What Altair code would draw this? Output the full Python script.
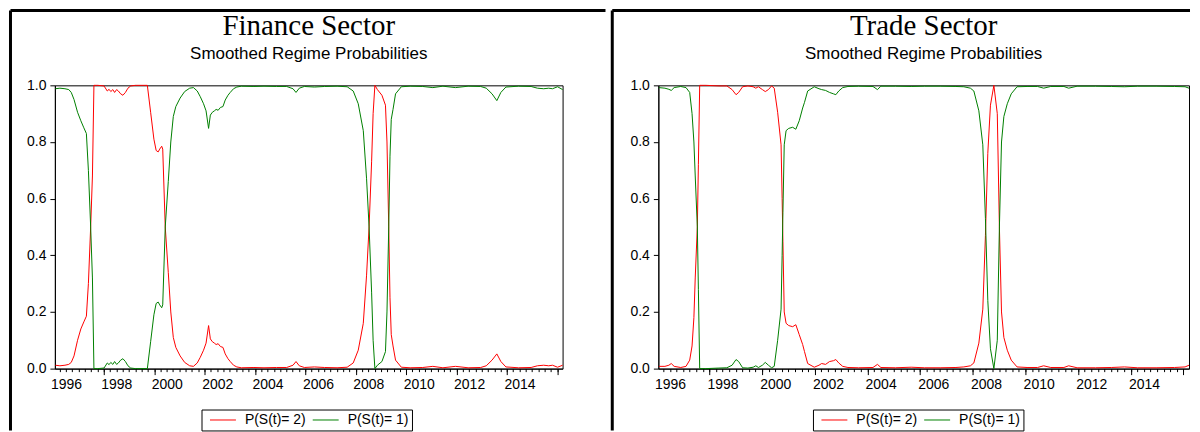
import altair as alt
import pandas as pd

RED_LABEL = "P(S(t)= 2)"
GREEN_LABEL = "P(S(t)= 1)"
SUBTITLE = "Smoothed Regime Probabilities"
RED = "#ff0000"
GREEN = "#008000"

# ---------------- Finance sector (time in decimal years) ----------------
fin_t = [1996.08, 1996.26, 1996.46, 1996.61, 1996.71, 1996.82, 1996.96, 1997.09, 1997.21, 1997.31,
         1997.39, 1997.48, 1997.55, 1997.61, 1997.76, 1998.01, 1998.14, 1998.21, 1998.28, 1998.36,
         1998.43, 1998.51, 1998.58, 1998.67, 1998.76, 1998.86, 1998.96, 1999.07, 1999.26, 1999.73,
         1999.86, 1999.99, 2000.08, 2000.16, 2000.22, 2000.30, 2000.34, 2000.44, 2000.56, 2000.66,
         2000.76, 2000.86, 2001.03, 2001.21, 2001.41, 2001.56, 2001.71, 2001.83, 2001.96, 2002.06,
         2002.16, 2002.23, 2002.31, 2002.39, 2002.46, 2002.54, 2002.63, 2002.73, 2002.82, 2002.93,
         2003.02, 2003.15, 2003.28, 2003.46, 2003.96, 2004.36, 2004.86, 2005.26, 2005.51, 2005.63,
         2005.76, 2005.96, 2006.36, 2006.76, 2007.26, 2007.66, 2007.90, 2008.10, 2008.30, 2008.43,
         2008.53, 2008.63, 2008.69, 2008.76, 2008.86, 2009.04, 2009.18, 2009.24, 2009.31, 2009.36,
         2009.41, 2009.48, 2009.58, 2009.81, 2010.16, 2010.66, 2011.06, 2011.46, 2011.96, 2012.46,
         2012.96, 2013.18, 2013.41, 2013.60, 2013.76, 2013.96, 2014.46, 2014.96, 2015.21, 2015.46,
         2015.66, 2015.81, 2016.01, 2016.21]
fin_red = [0.012, 0.010, 0.012, 0.015, 0.022, 0.045, 0.100, 0.140, 0.165, 0.185,
           0.300, 0.500, 0.680, 1.000, 1.000, 0.998, 0.980, 0.986, 0.978, 0.985,
           0.975, 0.985, 0.980, 0.970, 0.965, 0.975, 0.990, 0.998, 1.000, 1.000,
           0.905, 0.810, 0.770, 0.765, 0.775, 0.785, 0.775, 0.500, 0.340, 0.200,
           0.110, 0.075, 0.045, 0.022, 0.010, 0.008, 0.020, 0.040, 0.065, 0.090,
           0.152, 0.105, 0.095, 0.090, 0.085, 0.088, 0.078, 0.075, 0.052, 0.035,
           0.025, 0.012, 0.006, 0.003, 0.004, 0.003, 0.004, 0.004, 0.012, 0.025,
           0.010, 0.004, 0.006, 0.004, 0.003, 0.005, 0.020, 0.065, 0.160, 0.330,
           0.500, 0.730, 0.900, 1.000, 0.985, 0.965, 0.930, 0.800, 0.500, 0.250,
           0.120, 0.080, 0.030, 0.005, 0.003, 0.004, 0.008, 0.003, 0.008, 0.003,
           0.004, 0.010, 0.030, 0.052, 0.025, 0.006, 0.003, 0.004, 0.010, 0.012,
           0.010, 0.012, 0.005, 0.012]
fin_green = [0.988, 0.990, 0.988, 0.985, 0.975, 0.950, 0.905, 0.875, 0.850, 0.830,
             0.700, 0.500, 0.320, 0.000, 0.000, 0.002, 0.020, 0.014, 0.022, 0.015,
             0.025, 0.015, 0.020, 0.030, 0.035, 0.025, 0.010, 0.002, 0.000, 0.000,
             0.095, 0.190, 0.230, 0.235, 0.225, 0.215, 0.225, 0.500, 0.660, 0.800,
             0.890, 0.925, 0.955, 0.978, 0.990, 0.992, 0.980, 0.960, 0.935, 0.910,
             0.848, 0.895, 0.905, 0.910, 0.915, 0.912, 0.922, 0.925, 0.948, 0.965,
             0.975, 0.988, 0.994, 0.997, 0.996, 0.997, 0.996, 0.996, 0.988, 0.975,
             0.990, 0.996, 0.994, 0.996, 0.997, 0.995, 0.980, 0.935, 0.840, 0.670,
             0.500, 0.270, 0.100, 0.000, 0.012, 0.025, 0.060, 0.200, 0.500, 0.750,
             0.880, 0.915, 0.970, 0.995, 0.997, 0.996, 0.992, 0.997, 0.992, 0.997,
             0.996, 0.990, 0.970, 0.946, 0.975, 0.994, 0.997, 0.996, 0.990, 0.988,
             0.990, 0.988, 0.995, 0.985]

# ---------------- Trade sector ----------------
trade_t = [1996.08, 1996.31, 1996.46, 1996.55, 1996.66, 1996.91, 1997.11, 1997.25, 1997.34, 1997.41,
           1997.46, 1997.54, 1997.58, 1997.63, 1997.86, 1998.36, 1998.66, 1998.86, 1999.01, 1999.11,
           1999.26, 1999.46, 1999.66, 1999.76, 1999.86, 2000.01, 2000.12, 2000.24, 2000.36, 2000.46,
           2000.59, 2000.72, 2000.76, 2000.79, 2000.84, 2000.91, 2001.01, 2001.16, 2001.28, 2001.41,
           2001.54, 2001.61, 2001.73, 2001.98, 2002.16, 2002.26, 2002.41, 2002.56, 2002.71, 2002.80,
           2002.91, 2003.06, 2003.26, 2003.66, 2004.21, 2004.38, 2004.51, 2005.06, 2005.66, 2006.16,
           2006.76, 2007.36, 2007.66, 2007.91, 2008.04, 2008.23, 2008.38, 2008.48, 2008.57, 2008.67,
           2008.80, 2008.93, 2009.01, 2009.09, 2009.18, 2009.31, 2009.46, 2009.68, 2010.06, 2010.46,
           2010.69, 2010.96, 2011.46, 2011.64, 2011.96, 2012.66, 2013.26, 2013.76, 2014.26, 2014.96,
           2015.66, 2016.06, 2016.21]
trade_red = [0.008, 0.008, 0.012, 0.018, 0.008, 0.004, 0.008, 0.030, 0.080, 0.180,
             0.320, 0.500, 0.720, 1.000, 1.000, 0.998, 0.998, 0.985, 0.967, 0.975,
             0.995, 0.998, 0.995, 0.990, 0.995, 0.985, 0.978, 0.985, 0.998, 0.990,
             0.905, 0.790, 0.600, 0.450, 0.200, 0.160, 0.152, 0.148, 0.155, 0.120,
             0.085, 0.060, 0.018, 0.005, 0.012, 0.018, 0.015, 0.025, 0.028, 0.032,
             0.020, 0.008, 0.004, 0.003, 0.004, 0.015, 0.004, 0.003, 0.005, 0.003,
             0.003, 0.004, 0.006, 0.010, 0.020, 0.090, 0.210, 0.470, 0.760, 0.930,
             1.000, 0.900, 0.500, 0.200, 0.110, 0.065, 0.030, 0.006, 0.004, 0.004,
             0.010, 0.004, 0.004, 0.010, 0.003, 0.003, 0.004, 0.006, 0.003, 0.003,
             0.004, 0.006, 0.012]
trade_green = [0.992, 0.990, 0.986, 0.982, 0.992, 0.996, 0.992, 0.975, 0.900, 0.800,
               0.680, 0.500, 0.280, 0.000, 0.000, 0.002, 0.003, 0.012, 0.032, 0.025,
               0.003, 0.002, 0.005, 0.010, 0.004, 0.012, 0.022, 0.012, 0.003, 0.008,
               0.100, 0.210, 0.400, 0.550, 0.790, 0.840, 0.848, 0.852, 0.845, 0.875,
               0.920, 0.940, 0.980, 0.995, 0.988, 0.985, 0.982, 0.975, 0.970, 0.967,
               0.980, 0.992, 0.996, 0.997, 0.996, 0.985, 0.997, 0.997, 0.996, 0.997,
               0.997, 0.996, 0.995, 0.990, 0.980, 0.910, 0.790, 0.530, 0.240, 0.070,
               0.000, 0.100, 0.500, 0.800, 0.890, 0.935, 0.970, 0.995, 0.996, 0.996,
               0.990, 0.996, 0.996, 0.990, 0.997, 0.997, 0.996, 0.995, 0.997, 0.997,
               0.996, 0.995, 0.990]

# axis: labels centred on the year they name, long ticks at even-year starts, quarterly minor ticks
LABEL_POS = [1996.5, 1998.5, 2000.5, 2002.5, 2004.5, 2006.5, 2008.5, 2010.5, 2012.5, 2014.5]
MAJOR_TICKS = [1998, 2000, 2002, 2004, 2006, 2008, 2010, 2012, 2014, 2016]
QUARTER_TICKS = [1996.25 + 0.25 * i for i in range(80)]
Y_TICKS = [0.0, 0.2, 0.4, 0.6, 0.8, 1.0]
X_DOMAIN = [1996.06, 2016.21]

SANS = "Liberation Sans"
SERIF = "Liberation Serif"


def panel(title, t, red, green, width, legend_x, left_x, top_x1, top_x2):
    df = pd.DataFrame({
        "t": list(t) + list(t),
        "p": list(red) + list(green),
        "s": [RED_LABEL] * len(t) + [GREEN_LABEL] * len(t),
    })
    xscale = alt.Scale(domain=X_DOMAIN, nice=False, zero=False)
    yscale = alt.Scale(domain=[0, 1], nice=False)
    yaxis = alt.Axis(values=Y_TICKS, format=".1f", tickSize=5, labelPadding=4,
                     labelFontSize=14, labelFont=SANS, labelColor="black",
                     tickColor="black", domainColor="black", grid=False, title=None)
    label_axis = alt.Axis(values=LABEL_POS, labelExpr="'' + floor(datum.value)", orient="bottom",
                          tickSize=6, tickOpacity=0, labelPadding=3, labelFontSize=14,
                          labelFont=SANS, labelColor="black", domainColor="black",
                          grid=False, title=None, labelFlush=False, labelOverlap=False)
    major = alt.Axis(values=MAJOR_TICKS, labels=False, orient="bottom", tickSize=6,
                     domain=False, grid=False, title=None, tickColor="black")
    minor = alt.Axis(values=QUARTER_TICKS, labels=False, orient="bottom", tickSize=3,
                     domain=False, grid=False, title=None, tickColor="black")
    stroke = alt.Stroke(
        "s:N",
        scale=alt.Scale(domain=[RED_LABEL, GREEN_LABEL], range=[RED, GREEN]),
        legend=alt.Legend(title=None, orient="none", legendX=legend_x, legendY=325,
                          direction="horizontal", strokeColor="black", padding=2.5,
                          symbolType="stroke", symbolSize=676, symbolStrokeWidth=1,
                          symbolOffset=5.5, labelOffset=8.5, columnPadding=0,
                          clipHeight=16,
                          labelFontSize=14, labelFont=SANS, labelColor="black"),
    )
    base = alt.Chart(df)
    red_layer = base.transform_filter(alt.datum.s == RED_LABEL).mark_line(strokeWidth=1).encode(
        x=alt.X("t:Q", scale=xscale, axis=label_axis),
        y=alt.Y("p:Q", scale=yscale, axis=yaxis),
        stroke=stroke,
    )
    green_layer = base.transform_filter(alt.datum.s == GREEN_LABEL).mark_line(strokeWidth=1).encode(
        x=alt.X("t:Q", scale=xscale, axis=major),
        y=alt.Y("p:Q", scale=yscale, axis=yaxis),
        stroke=stroke,
    )
    tick_layer = base.mark_line(opacity=0).encode(
        x=alt.X("t:Q", scale=xscale, axis=minor),
        y=alt.Y("p:Q", scale=yscale, axis=yaxis),
        detail="s:N",
    )
    one = alt.Data(values=[{"title": title, "sub": SUBTITLE}])
    vline = alt.Chart(one).mark_rule(color="black", strokeWidth=3).encode(
        x=alt.value(left_x), y=alt.value(-75), y2=alt.value(346))
    hline = alt.Chart(one).mark_rule(color="black", strokeWidth=3).encode(
        x=alt.value(top_x1), x2=alt.value(top_x2), y=alt.value(-75))
    title_txt = alt.Chart(one).mark_text(font=SERIF, fontSize=29, color="black",
                                         align="center", baseline="alphabetic").encode(
        text="title:N", x=alt.value(width / 2), y=alt.value(-50))
    sub_txt = alt.Chart(one).mark_text(font=SANS, fontSize=17, color="black",
                                       align="center", baseline="alphabetic").encode(
        text="sub:N", x=alt.value(width / 2), y=alt.value(-26))
    return alt.layer(red_layer, green_layer, tick_layer, vline, hline, title_txt, sub_txt).resolve_axis(
        x="independent").properties(width=width, height=284)


left = panel("Finance Sector", fin_t, fin_red, fin_green, 509, 147, -44.5, -44.5, 552)
right = panel("Trade Sector", trade_t, trade_red, trade_green, 532, 155, -46.2, -46.2, 533)

chart = alt.hconcat(left, right, spacing=2).resolve_scale(stroke="independent").resolve_legend(
    stroke="independent").properties(
    padding={"left": 0, "top": 0, "right": 0, "bottom": 0}
).configure_view(stroke="black", strokeWidth=1)

chart.save("out.html", embed_options={"renderer": "svg", "actions": False})
